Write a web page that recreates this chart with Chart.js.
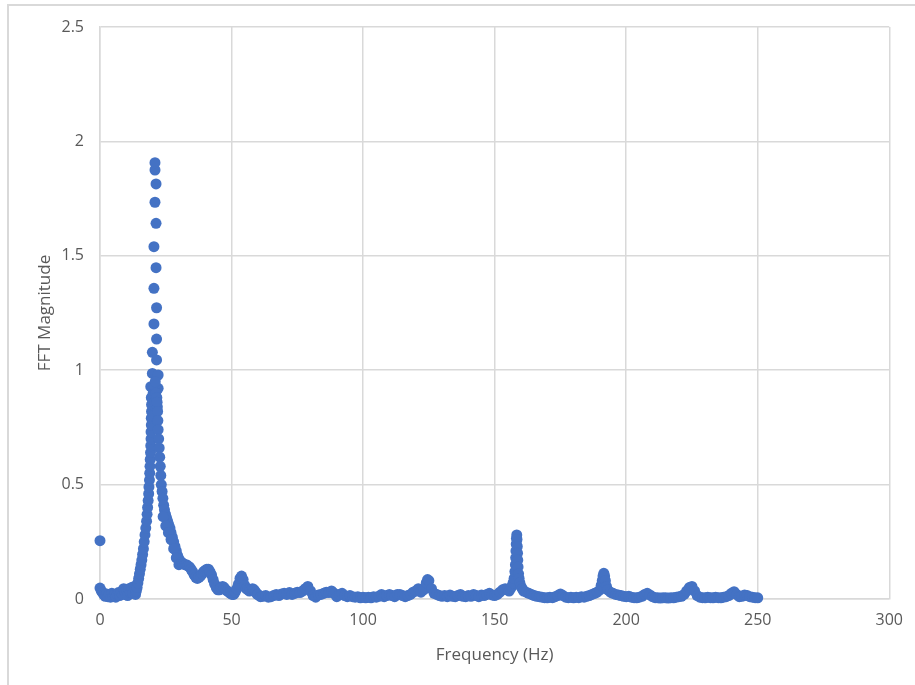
<!DOCTYPE html>
<html>
<head>
<meta charset="utf-8">
<script src="https://cdn.jsdelivr.net/npm/chart.js@4.4.1/dist/chart.umd.min.js"></script>
<style>
    html, body { margin: 0; padding: 0; background: #fff; overflow: hidden; }
    #frame {
        position: absolute; left: 7px; top: 4px; width: 940px; height: 720px;
        border: 2px solid #d9d9d9; box-sizing: border-box;
    }
    #wrap { position: absolute; left: 0; top: 0; width: 915px; height: 685px; }
</style>
</head>
<body>
<div id="frame"></div>
<div id="wrap"><canvas id="fftChart" width="915" height="685"></canvas></div>
<script>
// Axis ticks
const xTicks = [0, 50, 100, 150, 200, 250, 300];
const yTicks = [0, 0.5, 1, 1.5, 2, 2.5];

// 0 - 13 Hz floor
const baseFreq = [0, 0, 0.5, 1, 1.5, 2, 2.5, 3, 3.5, 4, 4.5, 5, 5.5, 6, 6.5, 7, 7.5, 8, 8.5, 9, 9.5, 10, 10.5, 11, 11.5, 12, 12.5, 13];
const baseMag = [0.255, 0.048, 0.035, 0.028, 0.018, 0.012, 0.022, 0.01, 0.02, 0.008, 0.025, 0.012, 0.018, 0.008, 0.02, 0.028, 0.015, 0.03, 0.02, 0.045, 0.03, 0.04, 0.015, 0.045, 0.03, 0.05, 0.025, 0.055];

// main resonance around 21 Hz (rising edge, top dots, fill, falling edge)
const peakFreq = [
    13.5, 13.8, 14.1, 14.4, 14.7, 15.0, 15.3, 15.6, 15.9, 16.2, 16.5, 16.8, 17.1, 17.4, 17.7, 17.9, 18.1,
    18.3, 18.5, 18.6, 18.8, 18.9, 19.0, 19.1, 19.2, 19.3, 19.4, 19.4, 19.5, 19.5, 19.6, 19.6, 19.5,
    19.3, 19.9, 19.9, 20.5, 20.5, 20.5, 20.9, 20.9, 20.9, 21.3, 21.3, 21.3, 21.5, 21.5, 21.5, 22.1, 22.1,
    20.2, 20.6, 21.0, 21.2, 20.8, 21.6, 21.2, 20.4, 21.8,
    21.7, 21.9, 22.0, 22.1, 22.3, 22.5, 22.7, 22.9, 23.1, 23.3, 23.6, 23.9, 24.2, 24.5, 24.9, 25.3,
    25.7, 26.1, 26.6, 27.0, 27.5, 28.0, 28.5, 29.0, 29.5, 30.0, 30.5,
    24.0, 25.0, 26.0, 27.0, 28.0, 29.0, 30.0
];
const peakMag = [
    0.02, 0.035, 0.05, 0.07, 0.09, 0.11, 0.13, 0.15, 0.17, 0.195, 0.22, 0.25, 0.28, 0.31, 0.34, 0.37, 0.40,
    0.43, 0.46, 0.49, 0.52, 0.55, 0.58, 0.61, 0.64, 0.67, 0.70, 0.73, 0.76, 0.79, 0.82, 0.85, 0.88,
    0.928, 0.986, 1.078, 1.202, 1.358, 1.540, 1.734, 1.875, 1.907, 1.814, 1.642, 1.448, 1.273, 1.136, 1.045, 0.979, 0.921,
    0.90, 0.93, 0.95, 0.90, 0.86, 0.88, 0.82, 0.80, 0.84,
    0.86, 0.82, 0.78, 0.74, 0.70, 0.66, 0.62, 0.58, 0.54, 0.50, 0.47, 0.44, 0.41, 0.39, 0.37, 0.355,
    0.34, 0.325, 0.31, 0.29, 0.27, 0.25, 0.23, 0.21, 0.19, 0.175, 0.165,
    0.36, 0.32, 0.29, 0.26, 0.22, 0.18, 0.15
];

// 31 - 60 Hz tail
const tailFreq = [
    31.0, 31.6, 32.2, 32.8, 33.4, 34.0, 34.6, 35.2, 35.8, 36.4, 37.0, 37.6, 38.2, 38.8, 39.4, 40.0, 40.6,
    41.2, 41.8, 42.4, 43.0, 43.6, 44.2, 44.8, 45.4, 46.0, 46.6, 47.2, 47.8, 48.4, 49.0, 49.6, 50.2,
    50.8, 51.4, 52.0, 52.6, 53.2, 53.8, 54.4, 55.0, 55.6, 56.2, 56.8, 57.4, 58.0, 58.6, 59.2, 59.8
];
const tailMag = [
    0.16, 0.155, 0.15, 0.15, 0.145, 0.14, 0.13, 0.12, 0.105, 0.095, 0.09, 0.095, 0.1, 0.11, 0.12, 0.125, 0.13,
    0.13, 0.12, 0.105, 0.085, 0.065, 0.05, 0.04, 0.04, 0.05, 0.055, 0.05, 0.04, 0.035, 0.03, 0.025, 0.02,
    0.02, 0.03, 0.045, 0.065, 0.09, 0.1, 0.085, 0.06, 0.045, 0.04, 0.035, 0.04, 0.045, 0.04, 0.03, 0.02
];

// 60 - 155 Hz
const midFreq = [
    60, 61, 62, 63, 64, 65, 66, 67, 68, 69,
    70, 71, 72, 73, 74, 75, 76, 77, 78, 79,
    80, 81, 82, 83, 84, 85, 86, 87, 88, 89,
    90, 91, 92, 93, 94, 95, 96, 97, 98, 99,
    100, 101, 102, 103, 104, 105, 106, 107, 108, 109,
    110, 111, 112, 113, 114, 115, 116, 117, 118, 119,
    120, 121, 122, 123, 124, 124.5, 125, 126, 127, 128, 129,
    130, 131, 132, 133, 134, 135, 136, 137, 138, 139,
    140, 141, 142, 143, 144, 145, 146, 147, 148, 149,
    150, 151, 152, 153, 154, 155
];
const midMag = [
    0.02, 0.01, 0.012, 0.015, 0.008, 0.01, 0.015, 0.02, 0.015, 0.022,
    0.025, 0.02, 0.028, 0.02, 0.025, 0.03, 0.028, 0.035, 0.045, 0.055,
    0.035, 0.015, 0.008, 0.018, 0.02, 0.025, 0.03, 0.028, 0.035, 0.025,
    0.01, 0.02, 0.025, 0.015, 0.01, 0.015, 0.01, 0.008, 0.01, 0.005,
    0.008, 0.005, 0.008, 0.005, 0.01, 0.008, 0.012, 0.02, 0.01, 0.015,
    0.02, 0.015, 0.01, 0.02, 0.02, 0.015, 0.01, 0.015, 0.02, 0.03,
    0.035, 0.045, 0.03, 0.04, 0.07, 0.085, 0.08, 0.045, 0.025, 0.02, 0.015,
    0.012, 0.015, 0.01, 0.018, 0.012, 0.01, 0.015, 0.02, 0.012, 0.01,
    0.015, 0.012, 0.02, 0.015, 0.01, 0.018, 0.015, 0.02, 0.025, 0.018,
    0.015, 0.02, 0.03, 0.04, 0.045, 0.04
];

// 155.5 - 250 Hz (spikes near 158 and 191 Hz)
const highFreq = [
    155.5, 156, 156.5, 157, 157.4, 157.7, 157.9, 158.0, 158.1, 158.2, 158.3,
    158.4, 158.5, 158.6, 158.7, 158.8, 158.9, 159.1, 159.3, 159.6, 160, 160.5,
    161, 162, 163, 164, 165, 166, 167, 168, 169,
    170, 171, 172, 173, 174, 175, 176, 177, 178, 179,
    180, 181, 182, 183, 184, 185, 186, 187, 188, 189,
    190, 190.5, 190.9, 191.2, 191.5, 191.8, 192.1, 192.5, 193,
    194, 195, 196, 197, 198, 199,
    200, 201, 202, 203, 204, 205, 206, 207, 208, 209,
    210, 211, 212, 213, 214, 215, 216, 217, 218, 219,
    220, 221, 222, 223, 224, 225, 226, 227, 228, 229,
    230, 231, 232, 233, 234, 235, 236, 237, 238, 239,
    240, 241, 242, 243, 244, 245, 246, 247, 248, 249, 250
];
const highMag = [
    0.035, 0.045, 0.055, 0.07, 0.09, 0.12, 0.15, 0.18, 0.21, 0.24, 0.265,
    0.28, 0.26, 0.23, 0.2, 0.17, 0.14, 0.11, 0.09, 0.07, 0.055, 0.045,
    0.035, 0.03, 0.025, 0.02, 0.015, 0.012, 0.01, 0.008, 0.006,
    0.005, 0.008, 0.006, 0.01, 0.015, 0.022, 0.015, 0.008, 0.006, 0.008,
    0.005, 0.008, 0.006, 0.01, 0.008, 0.012, 0.015, 0.02, 0.025, 0.03,
    0.04, 0.06, 0.08, 0.1, 0.112, 0.1, 0.08, 0.055, 0.04,
    0.03, 0.025, 0.02, 0.018, 0.015, 0.012,
    0.01, 0.012, 0.008, 0.006, 0.005, 0.008, 0.012, 0.02, 0.025, 0.018,
    0.01, 0.006, 0.005, 0.004, 0.006, 0.005, 0.004, 0.006, 0.005, 0.008,
    0.01, 0.012, 0.02, 0.035, 0.05, 0.055, 0.035, 0.015, 0.008, 0.006,
    0.005, 0.008, 0.006, 0.005, 0.008, 0.006, 0.005, 0.008, 0.01, 0.015,
    0.025, 0.032, 0.02, 0.01, 0.012, 0.018, 0.015, 0.01, 0.008, 0.006, 0.005
];

const freqHz = [].concat(baseFreq, peakFreq, tailFreq, midFreq, highFreq);
const fftMag = [].concat(baseMag, peakMag, tailMag, midMag, highMag);

const points = freqHz.map((f, i) => ({ x: f, y: fftMag[i] }));

const GRID = '#d9d9d9';
const TEXT = '#595959';
const FONT = "'Open Sans', sans-serif";

const ctx = document.getElementById('fftChart').getContext('2d');
new Chart(ctx, {
    type: 'scatter',
    data: {
        datasets: [{
            label: 'FFT Magnitude',
            data: points,
            backgroundColor: '#4472C4',
            borderWidth: 0,
            pointRadius: 5.5,
            clip: false
        }]
    },
    options: {
        responsive: false,
        animation: false,
        layout: { padding: { top: 27, right: 25, bottom: 0, left: 0 } },
        plugins: {
            legend: { display: false },
            tooltip: { enabled: false }
        },
        scales: {
            x: {
                type: 'linear',
                min: 0,
                max: 300,
                afterBuildTicks: (scale) => { scale.ticks = xTicks.map(v => ({ value: v })); },
                afterFit: (scale) => { scale.height = 86; },
                grid: { color: GRID, lineWidth: 1.5, drawTicks: false },
                border: { display: true, color: GRID, width: 1.5 },
                ticks: {
                    color: TEXT,
                    padding: 12,
                    font: { family: FONT, size: 16 },
                    callback: (v) => String(v)
                },
                title: {
                    display: true,
                    text: 'Frequency (Hz)',
                    color: TEXT,
                    font: { family: FONT, size: 17 },
                    padding: { top: 0, bottom: 20 }
                }
            },
            y: {
                type: 'linear',
                min: 0,
                max: 2.5,
                afterBuildTicks: (scale) => { scale.ticks = yTicks.map(v => ({ value: v })); },
                afterFit: (scale) => { scale.width = 100; },
                grid: { color: GRID, lineWidth: 1.5, drawTicks: false },
                border: { display: true, color: GRID, width: 1.5 },
                ticks: {
                    color: TEXT,
                    padding: 16,
                    font: { family: FONT, size: 16 },
                    callback: (v) => String(v)
                },
                title: {
                    display: true,
                    text: 'FFT Magnitude',
                    color: TEXT,
                    font: { family: FONT, size: 17 },
                    padding: { top: 35, bottom: 0 }
                }
            }
        }
    }
});
</script>
</body>
</html>
